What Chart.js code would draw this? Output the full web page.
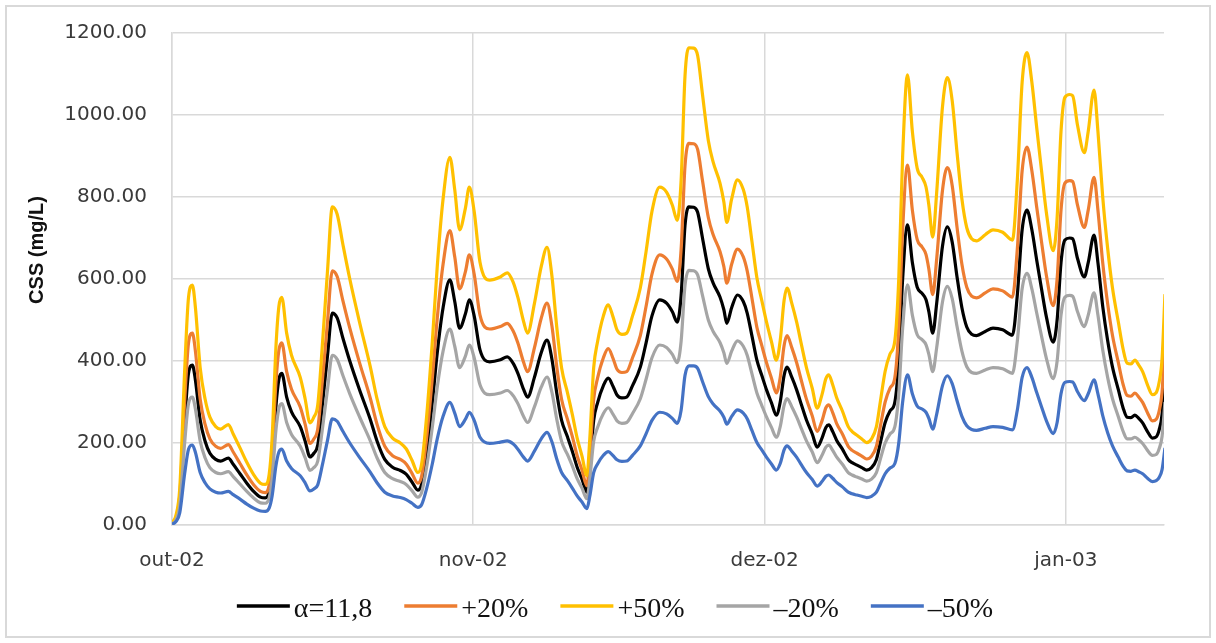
<!DOCTYPE html>
<html>
<head>
<meta charset="utf-8">
<title>CSS (mg/L)</title>
<script src="https://cdn.jsdelivr.net/npm/chart.js@4.4.1/dist/chart.umd.min.js"></script>
<style>
  html, body { margin: 0; padding: 0; background: #ffffff; }
  #wrap { width: 1216px; height: 643px; position: relative; }
</style>
</head>
<body>
<div id="wrap"><canvas id="c" width="1216" height="643"></canvas></div>
<script>
// Days counted from 1 Oct 2002
const days = [
  0.0, 0.4, 0.8, 1.3, 1.7, 2.1, 2.4, 2.9, 3.4, 3.9,
  4.5, 5.0, 5.8, 6.3, 7.0, 7.7, 8.4, 9.1, 9.6, 10.0,
  10.3, 10.7, 11.0, 11.3, 11.8, 12.3, 13.2, 13.7, 14.2, 14.6,
  15.0, 15.5, 16.0, 16.5, 17.0, 17.6, 18.3, 19.3, 20.4, 21.1,
  21.9, 22.7, 23.5, 24.1, 24.7, 25.3, 25.7, 26.2, 26.8, 27.3,
  27.9, 28.6, 29.1, 29.6, 30.2, 30.6, 31.1, 31.7, 32.7, 33.8,
  34.5, 35.1, 35.6, 36.2, 36.6, 37.3, 38.0, 38.6, 39.1, 39.6,
  40.1, 40.7, 41.2, 41.7, 42.2, 42.7, 43.0, 43.4, 43.8, 44.4,
  44.9, 45.4, 45.8, 46.3, 46.8, 47.4, 48.2, 48.8, 49.4, 50.2,
  50.9, 51.5, 52.0, 52.4, 52.8, 53.2, 53.7, 54.1, 54.6, 55.2,
  55.7, 56.4, 56.8, 57.1, 57.6, 58.2, 58.8, 59.2, 59.7, 60.2,
  60.7, 61.2, 61.7, 62.2, 62.6, 63.0, 63.3, 63.8, 64.3, 64.8,
  65.3, 65.9, 66.4, 66.9, 67.3, 67.6, 68.0, 68.4, 69.0, 69.6,
  70.0, 70.5, 71.0, 71.5, 72.0, 72.5, 72.9, 73.4, 73.9, 74.4,
  74.8, 75.2, 75.7, 76.2, 76.7, 77.2, 77.6, 77.9, 78.3, 78.7,
  79.3, 79.8, 80.3, 80.8, 81.3, 81.8, 82.3, 82.8, 83.7, 84.5,
  85.5, 86.5, 87.0, 87.5, 88.0, 88.5, 89.0, 89.5, 90.0, 90.7,
  91.1, 91.5, 91.9, 92.4, 92.7, 93.2, 93.9, 94.3, 94.9, 95.3,
  95.8, 96.3, 96.8, 97.4, 97.9, 98.3, 98.7, 99.1, 99.5, 99.9,
  100.4, 100.9, 101.3, 101.6, 101.9, 102.2
];

// CSS (mg/L), alpha = 11,8
const alpha = [
  3, 15, 60, 250, 370, 390, 355, 256, 205, 175,
  160, 156, 163, 148, 125, 102, 82, 68, 66, 82,
  140, 290, 355, 370, 312, 276, 240, 205, 166, 175,
  195, 298, 412, 517, 505, 455, 400, 330, 258, 205,
  160, 141, 133, 124, 105, 85, 100, 175, 300, 420,
  530, 598, 545, 480, 515, 549, 510, 427, 398, 403,
  410, 395, 370, 330, 312, 360, 420, 451, 405, 322,
  255, 215, 180, 141, 112, 80, 140, 255, 298, 340,
  358, 338, 317, 310, 312, 340, 385, 445, 510, 549,
  541, 520, 495, 560, 730, 776, 775, 763, 700, 625,
  590, 556, 525, 492, 530, 561, 545, 517, 460, 402,
  365, 329, 298, 268, 300, 365, 385, 360, 329, 292,
  256, 222, 190, 212, 238, 244, 228, 207, 185, 160,
  152, 146, 140, 134, 140, 160, 200, 250, 278, 300,
  400, 600, 732, 640, 580, 565, 550, 520, 468, 540,
  680, 727, 690, 605, 530, 483, 465, 462, 472, 480,
  476, 463, 560, 720, 768, 720, 646, 575, 507, 446,
  500, 640, 695, 700, 698, 650, 605, 640, 707, 640,
  532, 450, 385, 330, 285, 263, 262, 268, 260, 249,
  228, 212, 215, 232, 270, 375
];

// alpha +20%
const plus20 = [
  4, 18, 72, 300, 444, 468, 426, 307, 246, 210,
  192, 187, 196, 178, 150, 122, 98, 82, 79, 98,
  168, 348, 426, 444, 374, 331, 288, 246, 199, 210,
  234, 358, 494, 620, 606, 546, 480, 396, 310, 246,
  192, 169, 160, 149, 126, 102, 120, 210, 360, 504,
  636, 718, 654, 576, 618, 659, 612, 512, 478, 484,
  492, 474, 444, 396, 374, 432, 504, 541, 486, 386,
  306, 258, 216, 169, 134, 96, 168, 306, 358, 408,
  430, 406, 380, 372, 374, 408, 462, 534, 612, 659,
  649, 624, 594, 672, 876, 931, 930, 916, 840, 750,
  708, 667, 630, 590, 636, 673, 654, 620, 552, 482,
  438, 395, 358, 322, 360, 438, 462, 432, 395, 350,
  307, 266, 228, 254, 286, 293, 274, 248, 222, 192,
  182, 175, 168, 161, 168, 192, 240, 300, 334, 360,
  480, 720, 878, 768, 696, 678, 660, 624, 562, 648,
  816, 872, 828, 726, 636, 580, 558, 554, 566, 576,
  571, 556, 672, 864, 922, 864, 775, 690, 608, 535,
  600, 768, 834, 840, 838, 780, 726, 768, 848, 768,
  638, 540, 462, 396, 342, 316, 314, 322, 312, 299,
  274, 254, 258, 278, 324, 450
];

// alpha +50%
const plus50 = [
  5, 23, 90, 375, 555, 585, 533, 384, 308, 263,
  240, 234, 245, 222, 188, 153, 123, 102, 99, 123,
  210, 435, 533, 555, 468, 414, 360, 308, 249, 263,
  293, 447, 618, 776, 758, 683, 600, 495, 387, 308,
  240, 212, 200, 186, 158, 128, 150, 263, 450, 630,
  795, 897, 818, 720, 773, 824, 765, 641, 597, 605,
  615, 593, 555, 495, 468, 540, 630, 677, 608, 483,
  383, 323, 270, 212, 168, 120, 210, 383, 447, 510,
  537, 507, 476, 465, 468, 510, 578, 668, 765, 824,
  812, 780, 743, 840, 1095, 1164, 1163, 1145, 1050, 938,
  885, 834, 788, 738, 795, 842, 818, 776, 690, 603,
  548, 494, 447, 402, 450, 548, 578, 540, 494, 438,
  384, 333, 285, 318, 357, 366, 342, 311, 278, 240,
  228, 219, 210, 201, 210, 240, 300, 375, 417, 450,
  600, 900, 1098, 960, 870, 848, 825, 780, 702, 810,
  1020, 1091, 1035, 908, 795, 725, 698, 693, 708, 720,
  714, 695, 840, 1080, 1152, 1080, 969, 863, 761, 669,
  750, 960, 1043, 1050, 1047, 975, 908, 960, 1061, 960,
  798, 675, 578, 495, 428, 395, 393, 402, 390, 374,
  342, 318, 323, 348, 405, 563
];

// alpha -20%
const minus20 = [
  2, 12, 48, 200, 296, 312, 284, 205, 164, 140,
  128, 125, 130, 118, 100, 82, 66, 54, 53, 66,
  112, 232, 284, 296, 250, 221, 192, 164, 133, 140,
  156, 238, 330, 414, 404, 364, 320, 264, 206, 164,
  128, 113, 106, 99, 84, 68, 80, 140, 240, 336,
  424, 478, 436, 384, 412, 439, 408, 342, 318, 322,
  328, 316, 296, 264, 250, 288, 336, 361, 324, 258,
  204, 172, 144, 113, 90, 64, 112, 204, 238, 272,
  286, 270, 254, 248, 250, 272, 308, 356, 408, 439,
  433, 416, 396, 448, 584, 621, 620, 610, 560, 500,
  472, 445, 420, 394, 424, 449, 436, 414, 368, 322,
  292, 263, 238, 214, 240, 292, 308, 288, 263, 234,
  205, 178, 152, 170, 190, 195, 182, 166, 148, 128,
  122, 117, 112, 107, 112, 128, 160, 200, 222, 240,
  320, 480, 586, 512, 464, 452, 440, 416, 374, 432,
  544, 582, 552, 484, 424, 386, 372, 370, 378, 384,
  381, 370, 448, 576, 614, 576, 517, 460, 406, 357,
  400, 512, 556, 560, 558, 520, 484, 512, 566, 512,
  426, 360, 308, 264, 228, 210, 210, 214, 208, 199,
  182, 170, 172, 186, 216, 300
];

// alpha -50%
const minus50 = [
  2, 8, 30, 125, 185, 195, 178, 128, 103, 88,
  80, 78, 82, 74, 63, 51, 41, 34, 33, 41,
  70, 145, 178, 185, 156, 138, 120, 103, 83, 88,
  98, 149, 206, 259, 253, 228, 200, 165, 129, 103,
  80, 71, 67, 62, 53, 43, 50, 88, 150, 210,
  265, 299, 273, 240, 258, 275, 255, 214, 199, 202,
  205, 198, 185, 165, 156, 180, 210, 226, 203, 161,
  128, 108, 90, 71, 56, 40, 70, 128, 149, 170,
  179, 169, 159, 155, 156, 170, 193, 223, 255, 275,
  271, 260, 248, 280, 365, 388, 388, 382, 350, 313,
  295, 278, 263, 246, 265, 281, 273, 259, 230, 201,
  183, 165, 149, 134, 150, 183, 193, 180, 165, 146,
  128, 111, 95, 106, 119, 122, 114, 104, 93, 80,
  76, 73, 70, 67, 70, 80, 100, 125, 139, 150,
  200, 300, 366, 320, 290, 283, 275, 260, 234, 270,
  340, 364, 345, 303, 265, 242, 233, 231, 236, 240,
  238, 232, 280, 360, 384, 360, 323, 288, 254, 223,
  250, 320, 348, 350, 349, 325, 303, 320, 354, 320,
  266, 225, 193, 165, 143, 132, 131, 134, 130, 125,
  114, 106, 108, 116, 135, 188
];

const seriesLabels = ['\u03B1=11,8', '+20%', '+50%', '\u201320%', '\u201350%'];
const seriesColors = ['#000000', '#ED7D31', '#FFC000', '#A5A5A5', '#4472C4'];

// Month starts (days from 1 Oct 2002) and their labels
const monthTicks = [0, 31, 61, 92];
const monthLabels = ['out-02', 'nov-02', 'dez-02', 'jan-03'];

const yTicks = [0, 200, 400, 600, 800, 1000, 1200];
const yTitle = 'CSS (mg/L)';

const seriesValues = [alpha, plus20, plus50, minus20, minus50];

const datasets = seriesValues.map((vals, k) => ({
  label: seriesLabels[k],
  data: days.map((d, i) => ({ x: d, y: vals[i] })),
  borderColor: seriesColors[k],
  backgroundColor: seriesColors[k],
  borderWidth: 3.2,
  pointRadius: 0,
  fill: false,
  cubicInterpolationMode: 'monotone',
  order: seriesValues.length - k   // later series drawn on top
}));

const tickFont = { family: '"DejaVu Sans", sans-serif', size: 20 };
const tickColor = '#3a3a3a';
const gridColor = '#d9d9d9';

// White page with a thin light-grey frame
const framePlugin = {
  id: 'frame',
  beforeDraw(chart) {
    const c = chart.ctx;
    c.save();
    c.fillStyle = '#ffffff';
    c.fillRect(0, 0, chart.width, chart.height);
    c.strokeStyle = '#d9d9d9';
    c.lineWidth = 2;
    c.strokeRect(6, 6, chart.width - 12, chart.height - 12);
    c.restore();
  }
};

// Rotated y-axis title
const yTitlePlugin = {
  id: 'yTitle',
  afterDraw(chart) {
    const c = chart.ctx;
    c.save();
    c.translate(37, 250);
    c.rotate(-Math.PI / 2);
    c.font = 'bold 20px "Liberation Sans", Arial, sans-serif';
    c.fillStyle = '#111111';
    c.textAlign = 'center';
    c.textBaseline = 'middle';
    c.fillText(yTitle, 0, 0);
    c.restore();
  }
};

// Legend row: line sample followed by the series name
const legendPlugin = {
  id: 'lineLegend',
  afterDraw(chart) {
    const c = chart.ctx;
    const sets = chart.data.datasets;
    const lineLen = 53, gapText = 4, gapItem = 32;
    c.save();
    c.font = '28px "Liberation Serif", "Times New Roman", serif';
    const widths = sets.map(ds => c.measureText(ds.label).width);
    const total = widths.reduce((a, w) => a + lineLen + gapText + w, 0) + gapItem * (sets.length - 1);
    let x = 615 - total / 2;
    const yLine = 606, yText = 617;
    sets.forEach((ds, i) => {
      c.strokeStyle = ds.borderColor;
      c.lineWidth = 3.5;
      c.beginPath();
      c.moveTo(x, yLine);
      c.lineTo(x + lineLen, yLine);
      c.stroke();
      c.fillStyle = '#111111';
      c.textAlign = 'left';
      c.textBaseline = 'alphabetic';
      c.fillText(ds.label, x + lineLen + gapText, yText);
      x += lineLen + gapText + widths[i] + gapItem;
    });
    c.restore();
  }
};

new Chart(document.getElementById('c'), {
  type: 'line',
  data: { datasets },
  options: {
    responsive: false,
    animation: false,
    events: [],
    layout: { padding: { top: 33, right: 52, left: 0, bottom: 0 } },
    plugins: { legend: { display: false }, tooltip: { enabled: false } },
    scales: {
      x: {
        type: 'linear',
        min: 0,
        max: 102.1,
        afterBuildTicks: (scale) => { scale.ticks = monthTicks.map(v => ({ value: v })); },
        afterFit: (scale) => {
          scale.height = 118;
          scale.paddingLeft = 0;
          scale.paddingRight = 0;
        },
        ticks: {
          autoSkip: false,
          maxRotation: 0,
          padding: 24,
          font: tickFont,
          color: tickColor,
          callback: (v) => monthLabels[monthTicks.indexOf(v)]
        },
        grid: { color: gridColor, lineWidth: 1.5, drawTicks: false },
        border: { color: gridColor, width: 1.5 }
      },
      y: {
        min: 0,
        max: 1200,
        afterBuildTicks: (scale) => { scale.ticks = yTicks.map(v => ({ value: v })); },
        afterFit: (scale) => {
          scale.width = 172;
          scale.paddingTop = 0;
          scale.paddingBottom = 0;
        },
        ticks: {
          padding: 25,
          font: tickFont,
          color: tickColor,
          callback: (v) => Number(v).toFixed(2)
        },
        grid: { color: gridColor, lineWidth: 1.5, drawTicks: false },
        border: { color: gridColor, width: 1.5 }
      }
    }
  },
  plugins: [framePlugin, yTitlePlugin, legendPlugin]
});
</script>
</body>
</html>
